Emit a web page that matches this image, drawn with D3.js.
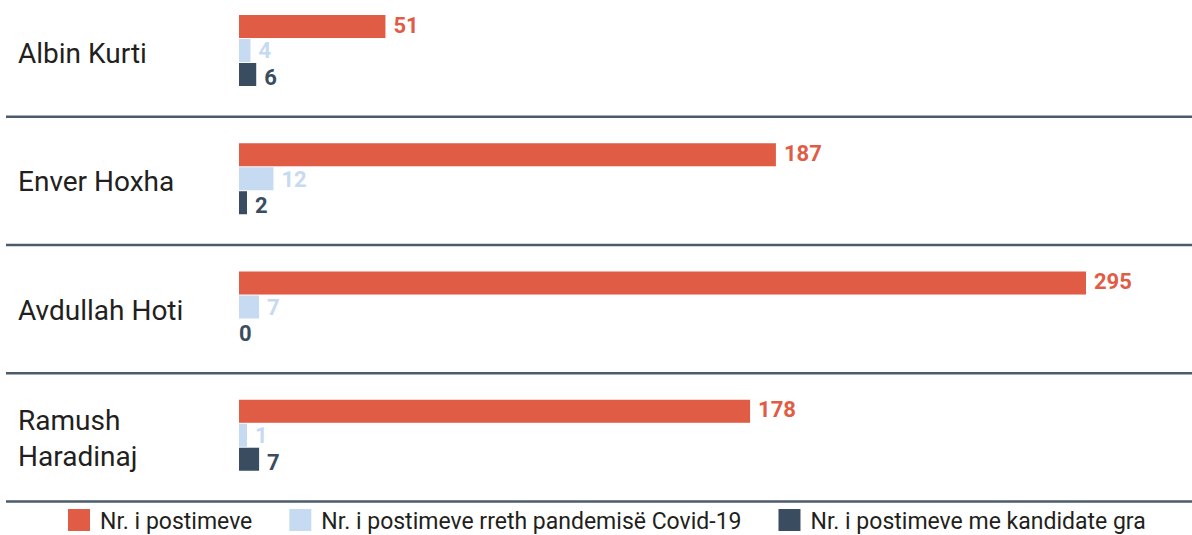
<!DOCTYPE html>
<html>
<head>
<meta charset="utf-8">
<script src="https://cdn.jsdelivr.net/npm/d3@7"></script>
<style>
  html, body { margin: 0; padding: 0; background: #ffffff; }
  svg { display: block; font-family: Roboto, "Noto Sans", sans-serif; }
</style>
</head>
<body>
<svg id="chart" width="1192" height="535"></svg>
<script>
// Politicians and their post counts, one array per measure
const candidates = ["Albin Kurti", "Enver Hoxha", "Avdullah Hoti", "Ramush Haradinaj"];
const totalPosts = [51, 187, 295, 178];
const covidPosts = [4, 12, 7, 1];
const womenCandidatePosts = [6, 2, 0, 7];
const seriesNames = [
  "Nr. i postimeve",
  "Nr. i postimeve rreth pandemisë Covid-19",
  "Nr. i postimeve me kandidate gra"
];

const colors = ["#e15c45", "#c6daf1", "#3a4d60"];
const seriesValues = [totalPosts, covidPosts, womenCandidatePosts];

const svg = d3.select("#chart");
const W = 1192;

// Row bands, one per candidate, separated by dark rules
const rowScale = d3.scaleBand().domain(candidates).range([-12, 501]).padding(0);
const barScale = d3.scaleBand().domain(d3.range(3)).range([27, 98]).paddingInner(0.04);
const x = d3.scaleLinear().domain([0, d3.max(totalPosts)]).range([239, 1086]);
const minBar = 8;
const labelDy = [17.5, 19.5, 22];

const rows = svg.selectAll("g.row")
  .data(candidates)
  .join("g")
  .attr("class", "row")
  .attr("transform", d => `translate(0,${rowScale(d)})`);

// Candidate names, wrapped onto two lines when too wide
rows.each(function(name) {
  const g = d3.select(this);
  const text = g.append("text")
    .attr("x", 18)
    .attr("fill", "#231f20")
    .style("font-size", "28px");
  const words = name.split(" ");
  const probe = text.append("tspan").text(name);
  const tooWide = probe.node().getComputedTextLength() > 200;
  probe.remove();
  const lines = tooWide ? [words.slice(0, -1).join(" "), words[words.length - 1]] : [name];
  const mid = rowScale.bandwidth() / 2 + 11;
  lines.forEach((ln, i) => {
    text.append("tspan")
      .attr("x", 18)
      .attr("y", mid + (i - (lines.length - 1) / 2) * 35.6)
      .text(ln);
  });
});

// Bars and value labels
rows.each(function(name, ri) {
  const g = d3.select(this);
  seriesValues.forEach((vals, si) => {
    const v = vals[ri];
    const w = v > 0 ? Math.max(x(v) - x(0), minBar) : 0;
    if (w > 0) {
      g.append("rect")
        .attr("x", x(0))
        .attr("y", barScale(si))
        .attr("width", w)
        .attr("height", barScale.bandwidth())
        .attr("fill", colors[si]);
    }
    g.append("text")
      .attr("x", v > 0 ? x(0) + w + 8 : x(0))
      .attr("y", barScale(si) + labelDy[si])
      .attr("fill", colors[si])
      .style("font-size", "22px")
      .style("font-weight", "700")
      .text(v);
  });
});

// Horizontal separators beneath each row
svg.selectAll("line.sep")
  .data(candidates)
  .join("line")
  .attr("class", "sep")
  .attr("x1", 6)
  .attr("x2", W)
  .attr("y1", d => rowScale(d) + rowScale.bandwidth() + 0.5)
  .attr("y2", d => rowScale(d) + rowScale.bandwidth() + 0.5)
  .attr("stroke", "#4b5b6c")
  .attr("stroke-width", 2.6);

// Legend
const legend = svg.append("g").attr("transform", "translate(68,509)");
let lx = 0;
seriesNames.forEach((s, i) => {
  const item = legend.append("g").attr("transform", `translate(${lx},0)`);
  item.append("rect")
    .attr("width", 22).attr("height", 22)
    .attr("fill", colors[i]);
  const t = item.append("text")
    .attr("x", 32)
    .attr("y", 20)
    .attr("fill", "#231f20")
    .style("font-size", "23px")
    .text(s);
  lx += 32 + t.node().getComputedTextLength() + 37;
});
</script>
</body>
</html>
